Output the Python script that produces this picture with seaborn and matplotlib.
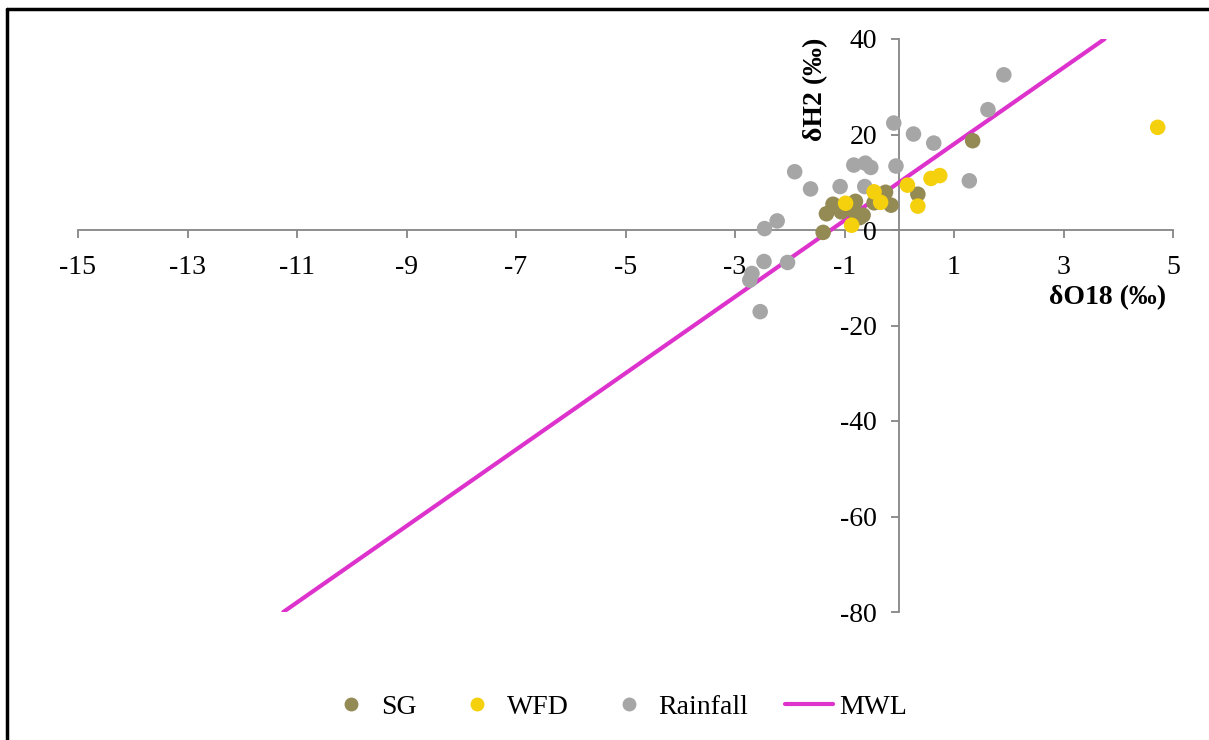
import matplotlib
matplotlib.use("Agg")
import matplotlib.pyplot as plt
import seaborn as sns
import pandas as pd
from matplotlib.lines import Line2D

# ---- data ----
sg_x = [1.34, 0.34, -0.25, -0.15, -0.46, -1.21, -0.80, -1.33, -1.06, -0.82, -0.66, -1.39, -0.72, -1.00]
sg_y = [18.7, 7.5, 7.9, 5.2, 5.7, 5.4, 6.0, 3.4, 3.8, 3.8, 3.1, -0.5, 2.6, 4.5]

wfd_x = [-0.98, -0.87, -0.46, -0.34, 0.15, 0.34, 0.58, 0.74, 4.72]
wfd_y = [5.6, 1.0, 8.0, 5.8, 9.4, 5.0, 10.8, 11.4, 21.5]

rain_x = [1.91, 1.62, -0.10, 0.26, 0.63, -0.83, -0.62, -0.52, -0.06, -1.91, -1.62,
          -1.08, -0.63, 1.28, -2.23, -2.46, -2.47, -2.04, -2.69, -2.73, -2.54]
rain_y = [32.5, 25.2, 22.4, 20.1, 18.2, 13.6, 14.0, 13.1, 13.4, 12.2, 8.6,
          9.1, 9.1, 10.3, 1.9, 0.3, -6.6, -6.8, -9.1, -10.5, -17.1]

mwl_x = [-11.25, 3.75]
mwl_y = [-80, 40]

x_ticks = [-15, -13, -11, -9, -7, -5, -3, -1, 1, 3, 5]
y_ticks = [-80, -60, -40, -20, 0, 20, 40]

colors = {"SG": "#948A54", "WFD": "#F5D00C", "Rainfall": "#A6A6A6", "MWL": "#DD33CC"}

# ---- figure ----
sns.set_style("white")
plt.rcParams["font.family"] = ["Liberation Serif", "DejaVu Serif"]
plt.rcParams["axes.unicode_minus"] = False
plt.rcParams["text.color"] = "black"

W, H = 1209, 740
fig = plt.figure(figsize=(W / 100, H / 100), dpi=100)
x0px, x1px = 78, 1173
y0px, y1px = 39, 612
ax = fig.add_axes([x0px / W, 1 - y1px / H, (x1px - x0px) / W, (y1px - y0px) / H])

df_rain = pd.DataFrame({"x": rain_x, "y": rain_y})
df_sg = pd.DataFrame({"x": sg_x, "y": sg_y})
df_wfd = pd.DataFrame({"x": wfd_x, "y": wfd_y})
df_mwl = pd.DataFrame({"x": mwl_x, "y": mwl_y})

sns.lineplot(data=df_mwl, x="x", y="y", ax=ax, color=colors["MWL"], lw=3, zorder=1, legend=False)
sns.scatterplot(data=df_rain, x="x", y="y", ax=ax, color=colors["Rainfall"], s=125,
                edgecolor="none", zorder=2, legend=False)
sns.scatterplot(data=df_sg, x="x", y="y", ax=ax, color=colors["SG"], s=125,
                edgecolor="none", zorder=3, legend=False)
sns.scatterplot(data=df_wfd, x="x", y="y", ax=ax, color=colors["WFD"], s=125,
                edgecolor="none", zorder=4, legend=False)

ax.set_xlim(-15, 5)
ax.set_ylim(-80, 40)
ax.set_xticks(x_ticks)
ax.set_yticks(y_ticks)
ax.set_xlabel("")
ax.set_ylabel("")

for s in ["top", "right"]:
    ax.spines[s].set_visible(False)
ax.spines["left"].set_position(("data", 0))
ax.spines["bottom"].set_position(("data", 0))
for s in ["left", "bottom"]:
    ax.spines[s].set_color("#868686")
    ax.spines[s].set_linewidth(1.3)
    ax.spines[s].set_zorder(0.5)
ax.tick_params(axis="both", direction="out", length=6, width=1.3, color="#868686",
               labelsize=20, labelcolor="black", bottom=True, left=True)
ax.tick_params(axis="x", pad=12)
ax.tick_params(axis="y", pad=10)
ax.patch.set_alpha(0)

fig.text(816 / W, 1 - 89 / H, "δH2 (‰)", rotation=90, ha="center", va="center",
         fontsize=20, fontweight="bold", color="black")
fig.text(1108 / W, 1 - 298 / H, "δO18 (‰)", ha="center", va="center",
         fontsize=20, fontweight="bold", color="black")

handles = [
    Line2D([], [], marker="o", ls="none", color=colors["SG"], markersize=9),
    Line2D([], [], marker="o", ls="none", color=colors["WFD"], markersize=9),
    Line2D([], [], marker="o", ls="none", color=colors["Rainfall"], markersize=9),
    Line2D([], [], color=colors["MWL"], lw=3),
]
leg = fig.legend(handles, ["SG", "WFD", "Rainfall", "MWL"], loc="center", ncol=4,
                 bbox_to_anchor=(0.51, 1 - 707 / H), frameon=False, fontsize=20,
                 handlelength=1.75, handletextpad=0.2, columnspacing=1.3)
for t in leg.get_texts():
    t.set_color("black")

# outer chart border (top and left visible)
fig.add_artist(Line2D([7 / W, 7 / W], [0, 1 - 9 / H], color="black", lw=2.5,
                      transform=fig.transFigure))
fig.add_artist(Line2D([7 / W, 1], [1 - 9 / H, 1 - 9 / H], color="black", lw=2.5,
                      transform=fig.transFigure))

fig.savefig("out.png", dpi=100)
